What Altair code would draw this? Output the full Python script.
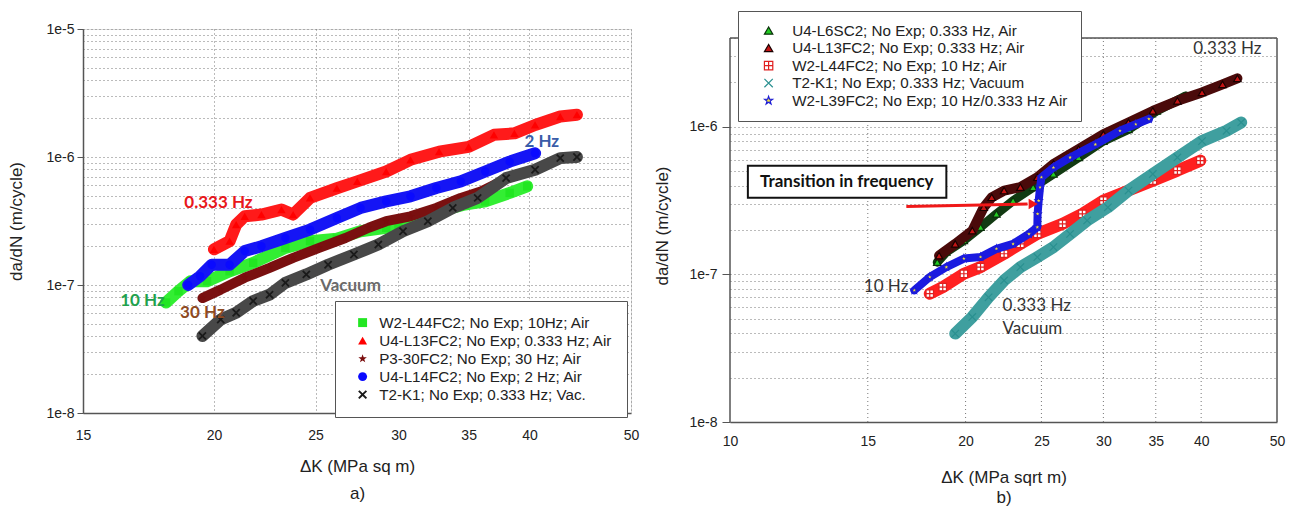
import altair as alt
import pandas as pd

# ---------------- Panel a) data ----------------
a_series = [
    "W2-L44FC2; No Exp; 10Hz; Air",
    "U4-L13FC2; No Exp; 0.333 Hz; Air",
    "P3-30FC2; No Exp; 30 Hz; Air",
    "U4-L14FC2; No Exp; 2 Hz; Air",
    "T2-K1; No Exp; 0.333 Hz; Vac.",
]
a_green_x = [18.0, 18.5, 19.0, 19.7, 20.7, 21.8, 23.4, 24.7, 26.2, 27.6, 29.2, 30.0, 32.0, 34.7, 36.3, 38.3, 39.8]
a_green_y = [7.3e-8, 8.95e-8, 1.07e-7, 1.07e-7, 1.28e-7, 1.49e-7, 1.95e-7, 2.2e-7, 2.3e-7, 2.63e-7, 2.8e-7, 2.96e-7, 3.55e-7, 4.25e-7, 4.5e-7, 5.24e-7, 5.9e-7]
a_red_x = [20.0, 20.7, 21.0, 21.4, 22.2, 23.2, 23.8, 24.7, 26.2, 27.4, 29.2, 30.8, 32.8, 35.0, 37.0, 38.7, 40.5, 42.8, 44.4]
a_red_y = [1.9e-7, 2.2e-7, 2.96e-7, 3.44e-7, 3.55e-7, 3.88e-7, 3.55e-7, 4.79e-7, 5.7e-7, 6.45e-7, 7.7e-7, 9.5e-7, 1.1e-6, 1.2e-6, 1.49e-6, 1.53e-6, 1.78e-6, 2.07e-6, 2.14e-6]
a_brown_x = [19.5, 20.3, 21.4, 22.6, 23.8, 25.2, 26.7, 28.1, 29.2, 30.8, 32.6, 34.4, 36.0, 37.3]
a_brown_y = [7.9e-8, 9.2e-8, 1.14e-7, 1.36e-7, 1.63e-7, 1.95e-7, 2.33e-7, 2.8e-7, 3.15e-7, 3.44e-7, 4.0e-7, 4.79e-7, 5.4e-7, 6.25e-7]
a_blue_x = [18.9, 19.4, 19.9, 20.7, 21.4, 22.2, 23.4, 24.7, 26.2, 27.6, 29.2, 30.8, 32.6, 34.4, 36.3, 38.3, 40.5]
a_blue_y = [1.0e-7, 1.17e-7, 1.44e-7, 1.44e-7, 1.84e-7, 2.01e-7, 2.33e-7, 2.71e-7, 3.34e-7, 4.0e-7, 4.5e-7, 4.93e-7, 5.72e-7, 6.45e-7, 7.7e-7, 9.2e-7, 1.07e-6]
a_black_x = [19.5, 20.3, 21.0, 21.8, 22.6, 23.4, 24.5, 25.7, 27.2, 28.7, 30.3, 32.0, 33.8, 35.7, 38.0, 40.5, 42.8, 44.4]
a_black_y = [4.0e-8, 5.37e-8, 6.07e-8, 7.5e-8, 8.4e-8, 1.04e-7, 1.21e-7, 1.44e-7, 1.73e-7, 2.07e-7, 2.63e-7, 3.15e-7, 4.0e-7, 4.79e-7, 6.84e-7, 7.95e-7, 9.8e-7, 1.0e-6]

a_fill = ["#22e622", "#ff0000", "#7a0d0d", "#0a0aff", "#1a1a1a"]
a_line = ["#33ee33", "#ff1a1a", "#7a1010", "#1515f5", "#484848"]
a_width = [12, 12, 10, 12, 12]
a_shapes = [
    "square",
    "triangle-up",
    "M0,-1L0.235,-0.324L0.951,-0.309L0.380,0.124L0.588,0.809L0,0.4L-0.588,0.809L-0.380,0.124L-0.951,-0.309L-0.235,-0.324Z",
    "circle",
    "M-1,-0.7L-0.3,0L-1,0.7L-0.7,1L0,0.3L0.7,1L1,0.7L0.3,0L1,-0.7L0.7,-1L0,-0.3L-0.7,-1Z",
]
a_draw_order = [0, 1, 3, 2, 4]

a_note_text = ["0.333 Hz", "2 Hz", "10 Hz", "30 Hz", "Vacuum"]
a_note_x = [20.2, 41.1, 17.95, 19.5, 27.0]
a_note_y = [4.37e-7, 1.31e-6, 7.5e-8, 6.07e-8, 9.9e-8]
a_note_color = ["#e8171b", "#3a5ca8", "#1fa24e", "#8e4a22", "#6a6a6a"]
a_note_align = ["center", "center", "right", "center", "center"]

# ---------------- Panel b) data ----------------
b_series = [
    "U4-L6SC2; No Exp; 0.333  Hz, Air",
    "U4-L13FC2; No Exp; 0.333 Hz; Air",
    "W2-L44FC2; No Exp; 10 Hz; Air",
    "T2-K1; No Exp; 0.333 Hz; Vacuum",
    "W2-L39FC2; No Exp; 10 Hz/0.333 Hz Air",
]
b_green_x = [18.4, 18.9, 19.9, 20.9, 21.9, 23.0, 24.4, 25.9, 27.9, 30.0, 32.3, 35.1, 38.2]
b_green_y = [1.21e-7, 1.42e-7, 1.70e-7, 2.09e-7, 2.57e-7, 3.16e-7, 3.89e-7, 4.79e-7, 6.2e-7, 8.0e-7, 9.6e-7, 1.28e-6, 1.62e-6]
b_dred_x = [18.5, 19.4, 20.4, 21.1, 21.6, 22.4, 23.5, 24.7, 25.9, 27.9, 30.0, 32.3, 34.7, 37.3, 40.1, 42.6, 44.5]
b_dred_y = [1.34e-7, 1.61e-7, 1.98e-7, 2.85e-7, 3.33e-7, 3.7e-7, 3.9e-7, 4.55e-7, 5.6e-7, 7.07e-7, 8.9e-7, 1.07e-6, 1.28e-6, 1.5e-6, 1.71e-6, 1.94e-6, 2.13e-6]
b_red_x = [18.0, 18.7, 19.9, 20.9, 22.4, 23.5, 24.7, 26.6, 28.2, 30.0, 32.3, 34.7, 37.3, 39.9]
b_red_y = [7.4e-8, 8.2e-8, 1.01e-7, 1.12e-7, 1.38e-7, 1.61e-7, 1.88e-7, 2.2e-7, 2.57e-7, 3.16e-7, 3.7e-7, 4.32e-7, 5.05e-7, 5.9e-7]
b_teal_x = [19.4, 20.4, 21.4, 22.4, 23.5, 24.7, 25.9, 27.2, 28.6, 30.4, 32.3, 34.7, 37.3, 40.1, 43.1, 45.0]
b_teal_y = [3.97e-8, 5.15e-8, 7.0e-8, 9.1e-8, 1.12e-7, 1.31e-7, 1.53e-7, 1.88e-7, 2.32e-7, 2.85e-7, 3.7e-7, 4.79e-7, 6.2e-7, 8.0e-7, 9.4e-7, 1.07e-6]
b_blue_x = [17.2, 18.0, 18.9, 19.9, 20.9, 21.9, 23.0, 24.1, 24.7, 24.72, 24.8, 24.9, 25.0, 25.9, 27.2, 29.3, 31.5, 33.0, 34.3]
b_blue_y = [7.8e-8, 9.6e-8, 1.12e-7, 1.28e-7, 1.31e-7, 1.49e-7, 1.61e-7, 1.88e-7, 2.09e-7, 2.57e-7, 3.16e-7, 3.89e-7, 4.55e-7, 5.3e-7, 6.2e-7, 7.6e-7, 9.4e-7, 1.04e-6, 1.13e-6]

b_fill = ["#22cc22", "#c41414", "#ffffff", "transparent", "#f2e23a"]
b_stroke = ["#0b300b", "#1a0000", "#e02020", "#2a9090", "#1a1ad8"]
b_line = ["#123a12", "#4a0a0a", "#ff2020", "#3f9f9f", "#1a1ae0"]
b_width = [9, 10, 12, 12, 8]
b_shapes = [
    "triangle-up",
    "triangle-up",
    "M-1,-1L1,-1L1,1L-1,1ZM0,-1L0,1M-1,0L1,0",
    "M-1,-1L1,1M-1,1L1,-1",
    "M0,-1L0.235,-0.324L0.951,-0.309L0.380,0.124L0.588,0.809L0,0.4L-0.588,0.809L-0.380,0.124L-0.951,-0.309L-0.235,-0.324Z",
]
b_draw_order = [2, 3, 0, 1, 4]

b_note_text = ["0.333 Hz", "10 Hz", "0.333 Hz", "Vacuum"]
b_note_x = [43.2, 16.9, 22.3, 22.3]
b_note_y = [3.35e-6, 8.2e-8, 6.1e-8, 4.3e-8]
b_note_align = ["center", "right", "left", "left"]

box_text = ["Transition in frequency"]
box_x = [10.54]
box_x2 = [18.9]
box_y = [3.31e-7]
box_y2 = [5.44e-7]
box_tx = [14.1]
box_ty = [4.25e-7]
arrow_x = [16.8]
arrow_x2 = [24.0]
arrow_y = [2.88e-7]
arrow_y2 = [3.0e-7]
arrow_head_x = [24.4]
arrow_head_y = [3.0e-7]

# panel b frame / grid extents (data units)
b_x_min, b_x_max = 10, 50
b_y_min, b_y_top, b_y_scale_top = 1e-8, 4e-6, 4.6e-6
b_grid_x = [15, 20, 25, 30, 35, 40]

# ---------------- build tables ----------------
def table(series, xs_list, ys_list):
    rows = []
    for s, xs, ys in zip(series, xs_list, ys_list):
        for i, (x, y) in enumerate(zip(xs, ys)):
            rows.append({"series": s, "x": x, "y": y, "i": i})
    return pd.DataFrame(rows)

df_a = table(a_series, [a_green_x, a_red_x, a_brown_x, a_blue_x, a_black_x],
             [a_green_y, a_red_y, a_brown_y, a_blue_y, a_black_y])
df_b = table(b_series, [b_green_x, b_dred_x, b_red_x, b_teal_x, b_blue_x],
             [b_green_y, b_dred_y, b_red_y, b_teal_y, b_blue_y])

FONT = "Liberation Sans"
LEG_FS = 15.2
decade_test = "abs(log(datum.value)/LN10 - round(log(datum.value)/LN10)) < 0.001"
label_expr = "(" + decade_test + ") ? '1e' + round(log(datum.value)/LN10) : ''"

def minor_vals(lo, hi, extra):
    v = []
    for d in range(lo, hi):
        for m in range(1, 10):
            v.append(m * 10.0 ** d)
    return v + extra

def y_axis(values, title_pad, label_pad, tick_size, domain=True):
    return alt.Axis(
        values=values, labelExpr=label_expr, labelOverlap=False, labelBound=False, labelFlush=False,
        title="da/dN (m/cycle)", titleFont=FONT, titleFontSize=17, titleFontWeight="normal",
        titleColor="#222", titlePadding=title_pad,
        labelFont=FONT, labelFontSize=14, labelColor="#222", labelPadding=label_pad,
        tickSize=tick_size, tickColor="#555",
        tickOpacity={"condition": {"test": decade_test, "value": 1}, "value": 0},
        grid=True, gridDash=[1, 3], gridColor="#777", gridWidth=1,
        domain=domain, domainColor="#555", domainWidth=1.5,
    )

def x_axis(values, title, line_h, label_pad, title_pad, grid=True):
    return alt.Axis(
        values=values, labelOverlap=False, labelFlush=False, labelFont=FONT, labelFontSize=14,
        labelColor="#222", labelPadding=label_pad, ticks=False, format="d",
        title=title, titleFont=FONT, titleFontSize=17, titleFontWeight="normal", titleColor="#222",
        titleLineHeight=line_h, titlePadding=title_pad,
        grid=grid, gridDash=[1, 3], gridColor="#777", gridWidth=1,
        domainColor="#555", domainWidth=1.5,
    )

# ---------------- Panel a ----------------
xa = alt.X("x:Q", scale=alt.Scale(type="log", domain=[15, 50], nice=False),
           axis=x_axis([15, 20, 25, 30, 35, 40, 50], ["\u0394K (MPa sq m)", "a)"], 27, 15, 16))
ya = alt.Y("y:Q", scale=alt.Scale(type="log", domain=[1e-8, 1e-5], nice=False),
           axis=y_axis(minor_vals(-8, -5, [1e-5]), 20, 3, 6))

leg_a = alt.Legend(title=None, orient="none", legendX=252, legendY=272, fillColor="white",
                   strokeColor="#555", padding=14, symbolOffset=6,
                   labelFont=FONT, labelFontSize=LEG_FS, labelColor="#222", labelOffset=9,
                   symbolSize=80, rowPadding=2, labelLimit=400)

base_a = alt.Chart(df_a)
layers_a = []
for k in a_draw_order:
    s = a_series[k]
    sub = base_a.transform_filter(alt.datum.series == s)
    layers_a.append(sub.mark_line(strokeWidth=a_width[k], strokeJoin="round", strokeCap="round").encode(
        x=xa, y=ya, order="i:Q",
        color=alt.Color("series:N", scale=alt.Scale(domain=a_series, range=a_line), legend=None)))
    layers_a.append(sub.mark_point(filled=True, opacity=1, size=70).encode(
        x=xa, y=ya,
        fill=alt.Fill("series:N", scale=alt.Scale(domain=a_series, range=a_fill), legend=leg_a),
        shape=alt.Shape("series:N", scale=alt.Scale(domain=a_series, range=a_shapes), legend=leg_a)))

notes_a = pd.DataFrame({"t": a_note_text, "x": a_note_x, "y": a_note_y,
                        "c": a_note_color, "al": a_note_align})
for al in ["center", "right"]:
    layers_a.append(alt.Chart(notes_a).transform_filter(alt.datum.al == al).mark_text(
        font="Lato", fontSize=17, fontWeight="bold", align=al, baseline="middle").encode(
        x=xa, y=ya, text="t:N", color=alt.Color("c:N", scale=None)))

panel_a = alt.layer(*layers_a).resolve_scale(color="independent").properties(width=548, height=384)

# ---------------- Panel b ----------------
sx_b = alt.Scale(type="log", domain=[b_x_min, b_x_max], nice=False)
sy_b = alt.Scale(type="log", domain=[b_y_min, b_y_scale_top], nice=False)
xb = alt.X("x:Q", scale=sx_b,
           axis=x_axis([10, 15, 20, 25, 30, 35, 40, 50], ["\u0394K (MPa sqrt m)", "b)"], 20, 12, 21,
                       grid=False))
yb = alt.Y("y:Q", scale=sy_b,
           axis=y_axis(minor_vals(-8, -6, [1e-6, 2e-6, 3e-6, 4e-6]), 17, 5, 8, domain=False))

leg_b = alt.Legend(title=None, orient="none", legendX=8, legendY=-18, fillColor="white",
                   strokeColor="#555", padding=12, symbolOffset=11,
                   labelFont=FONT, labelFontSize=LEG_FS, labelColor="#222", labelOffset=16,
                   symbolSize=70, rowPadding=1.5, labelLimit=400, symbolStrokeWidth=1.2)

layers_b = []
# vertical dotted grid lines inside the frame
grid_df = pd.DataFrame({"x": b_grid_x, "y": [b_y_min] * len(b_grid_x), "y2": [b_y_top] * len(b_grid_x)})
layers_b.append(alt.Chart(grid_df).mark_rule(color="#777", strokeWidth=1, strokeDash=[1, 3]).encode(
    x=xb, y=yb, y2="y2:Q"))

base_b = alt.Chart(df_b)
for k in b_draw_order:
    s = b_series[k]
    sub = base_b.transform_filter(alt.datum.series == s)
    layers_b.append(sub.mark_line(strokeWidth=b_width[k], strokeJoin="round", strokeCap="round").encode(
        x=xb, y=yb, order="i:Q",
        color=alt.Color("series:N", scale=alt.Scale(domain=b_series, range=b_line), legend=None)))
    layers_b.append(sub.mark_point(filled=False, opacity=1, size=55, strokeWidth=1.2).encode(
        x=xb, y=yb,
        fill=alt.Fill("series:N", scale=alt.Scale(domain=b_series, range=b_fill), legend=leg_b),
        stroke=alt.Stroke("series:N", scale=alt.Scale(domain=b_series, range=b_stroke), legend=leg_b),
        shape=alt.Shape("series:N", scale=alt.Scale(domain=b_series, range=b_shapes), legend=leg_b)))

notes_b = pd.DataFrame({"t": b_note_text, "x": b_note_x, "y": b_note_y, "al": b_note_align})
for al in ["center", "right", "left"]:
    layers_b.append(alt.Chart(notes_b).transform_filter(alt.datum.al == al).mark_text(
        font="Lato", fontSize=17, color="#333", align=al, baseline="middle").encode(
        x=xb, y=yb, text="t:N"))

box_df = pd.DataFrame({"t": box_text, "x": box_x, "x2": box_x2, "y": box_y, "y2": box_y2,
                       "tx": box_tx, "ty": box_ty})
layers_b.append(alt.Chart(box_df).mark_rect(fill="white", stroke="#111", strokeWidth=2).encode(
    x=xb, x2="x2:Q", y=yb, y2="y2:Q"))
layers_b.append(alt.Chart(box_df).mark_text(font="Lato", fontSize=17, fontWeight="bold",
                                            color="#111").encode(
    x=alt.X("tx:Q", scale=sx_b), y=alt.Y("ty:Q", scale=sy_b), text="t:N"))
arrow_df = pd.DataFrame({"x": arrow_x, "x2": arrow_x2, "y": arrow_y, "y2": arrow_y2,
                         "hx": arrow_head_x, "hy": arrow_head_y})
layers_b.append(alt.Chart(arrow_df).mark_rule(color="#f01818", strokeWidth=3).encode(
    x=xb, x2="x2:Q", y=yb, y2="y2:Q"))
layers_b.append(alt.Chart(arrow_df).mark_point(shape="triangle-right", filled=True, color="#f01818",
                                               size=110, opacity=1).encode(
    x=alt.X("hx:Q", scale=sx_b), y=alt.Y("hy:Q", scale=sy_b)))

# frame of panel b (left, right and top edges, in data units)
frame_v = pd.DataFrame({"x": [b_x_min, b_x_max], "y": [b_y_min, b_y_min], "y2": [b_y_top, b_y_top]})
frame_h = pd.DataFrame({"x": [b_x_min], "x2": [b_x_max], "y": [b_y_top]})
layers_b.append(alt.Chart(frame_v).mark_rule(color="#555", strokeWidth=1.5).encode(
    x=xb, y=yb, y2="y2:Q"))
layers_b.append(alt.Chart(frame_h).mark_rule(color="#555", strokeWidth=1.5).encode(
    x=xb, x2="x2:Q", y=yb))

panel_b = alt.layer(*layers_b).resolve_scale(color="independent").properties(
    width=547, height=393, view=alt.ViewBackground(stroke="transparent"))

chart = alt.hconcat(panel_a, panel_b, spacing=13).resolve_scale(
    x="independent", y="independent", color="independent", fill="independent",
    shape="independent", stroke="independent"
).properties(padding={"left": 7, "top": 10, "right": 5, "bottom": 5}).configure_view(
    stroke="#555", strokeWidth=1.5
).configure(background="white")

chart.save("out.html", embed_options={"renderer": "svg", "actions": False})
